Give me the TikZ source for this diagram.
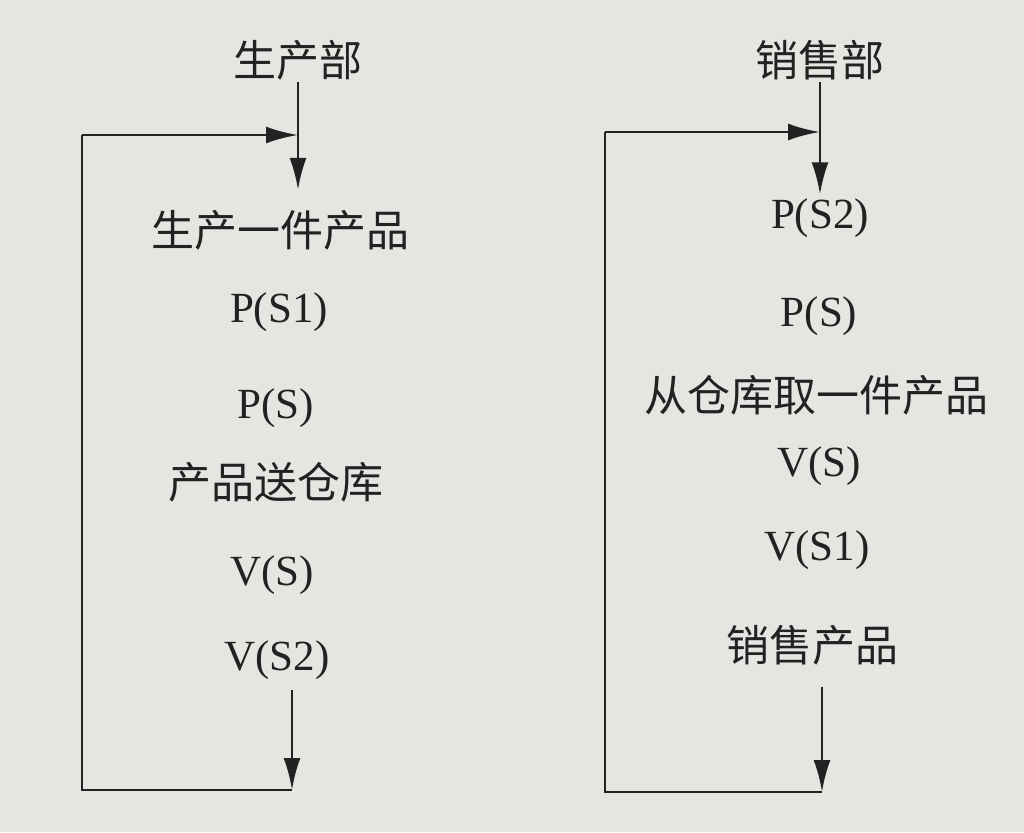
\documentclass[tikz,border=0pt]{standalone}
\usepackage{fontspec}
\setmainfont{Liberation Serif}
\newfontfamily\cjk{Noto Sans CJK SC}
\usetikzlibrary{arrows.meta, positioning, calc}
\definecolor{paper}{HTML}{E7E5E2}
\definecolor{ink}{HTML}{222222}

\begin{document}
\begin{tikzpicture}[x=1pt, y=-1pt,
    step text/.style={font=\fontsize{43}{50}\selectfont, text=ink, inner sep=2pt},
    zh/.style={step text, font=\fontsize{43}{50}\selectfont\cjk},
    flow/.style={draw=ink, line width=2.8pt, -{Latex[length=32pt, width=17pt]}},
    loop line/.style={draw=ink, line width=2.8pt}]
    % Page
    \fill[paper] (0,0) rectangle (1024,832);
    \useasboundingbox (0,0) rectangle (1024,832);

    % Production column
    \node[zh] (prod) at (298,60) {生产部};
    \node[zh] (make) at (280,230) {生产一件产品};
    \node[step text] (ps1) at (279,312) {P(S1)};
    \node[step text] (psl) at (276,408) {P(S)};
    \node[zh] (store) at (276,482) {产品送仓库};
    \node[step text] (vsl) at (272,575) {V(S)};
    \node[step text] (vs2) at (277,660) {V(S2)};
    \coordinate (lbot) at (292,790);
    \coordinate (lcorner) at (82,790);
    \coordinate (ltop) at (82,135);
    \coordinate (ljoin) at (prod.south |- ltop);

    \draw[flow] (prod.south) -- ($(prod.south |- make.north)+(0,-18)$);
    \draw[flow, shorten <=8pt] (vs2.south -| lbot) -- (lbot);
    \draw[loop line] (lbot) -- (lcorner) -- (ltop);
    \draw[flow] (ltop) -- (ljoin);

    % Sales column
    \node[zh] (sales) at (820,60) {销售部};
    \node[step text] (ps2) at (820,218) {P(S2)};
    \node[step text] (psr) at (819,316) {P(S)};
    \node[zh] (fetch) at (816,395) {从仓库取一件产品};
    \node[step text] (vsr) at (819,466) {V(S)};
    \node[step text] (vs1) at (817,550) {V(S1)};
    \node[zh] (sell) at (812,645) {销售产品};
    \coordinate (rbot) at (822,792);
    \coordinate (rcorner) at (605,792);
    \coordinate (rtop) at (605,132);
    \coordinate (rjoin) at (sales.south |- rtop);

    \draw[flow] (sales.south) -- ($(sales.south |- ps2.north)+(0,-2)$);
    \draw[flow, shorten <=20pt] (sell.south -| rbot) -- (rbot);
    \draw[loop line] (rbot) -- (rcorner) -- (rtop);
    \draw[flow] (rtop) -- (rjoin);
\end{tikzpicture}
\end{document}
